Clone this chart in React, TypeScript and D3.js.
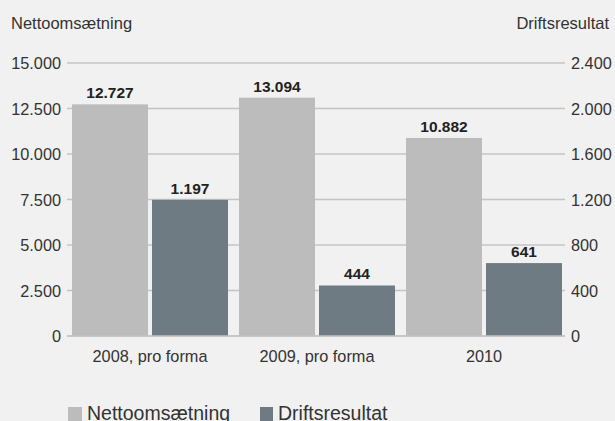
import React from "react";
import * as d3 from "d3";

const categories = ["2008, pro forma", "2009, pro forma", "2010"];
const nettoValues = [12727, 13094, 10882];
const driftValues = [1197, 444, 641];
const leftTicks = [0, 2500, 5000, 7500, 10000, 12500, 15000];
const rightTicks = [0, 400, 800, 1200, 1600, 2000, 2400];
const seriesNames = ["Nettoomsætning", "Driftsresultat"];

const W = 615;
const H = 421;
const colors = ["#bcbcbc", "#6f7b82"];
const font = "'Liberation Sans', Arial, Helvetica, sans-serif";
const fmt = (v: number) => d3.format(",")(v).replace(/,/g, ".");

export default function App() {
  const x0 = 66.5, x1 = 567.5, yTop = 63, yBot = 336;
  const xBand = d3.scaleBand<string>().domain(categories).range([x0, x1]).paddingInner(0).paddingOuter(0);
  const yL = d3.scaleLinear().domain([0, 15000]).range([yBot, yTop]);
  const yR = d3.scaleLinear().domain([0, 2400]).range([yBot, yTop]);
  const barW = 76;
  const gap = 4;
  const bw = xBand.bandwidth();
  const inner = (bw - (2 * barW + gap)) / 2;

  return (
    <svg width={W} height={H} style={{ position: "absolute", left: 0, top: 0, display: "block" }} fontFamily={font}>
      <rect x={0} y={0} width={W} height={H} fill="#f1f1f1" />
      <text x={11} y={29} fontSize={16.5} fill="#333">Nettoomsætning</text>
      <text x={609} y={29} fontSize={16.5} fill="#333" textAnchor="end">Driftsresultat</text>
      {leftTicks.map((t) => (
        <g key={"l" + t}>
          <line x1={67} x2={565} y1={yL(t)} y2={yL(t)} stroke="#c4c4c4" strokeWidth={1.5} />
          <text x={61} y={yL(t) + 6} fontSize={16.3} fill="#333" textAnchor="end">{fmt(t)}</text>
        </g>
      ))}
      {rightTicks.map((t) => (
        <text key={"r" + t} x={571} y={yR(t) + 6} fontSize={16.3} fill="#333">{fmt(t)}</text>
      ))}
      {categories.map((c, i) => {
        const bx = (xBand(c) as number) + inner;
        const nx = bx, dx = bx + barW + gap;
        return (
          <g key={c}>
            <rect x={nx} y={yL(nettoValues[i])} width={barW} height={yBot - yL(nettoValues[i])} fill={colors[0]} />
            <rect x={dx} y={yR(driftValues[i])} width={barW} height={yBot - yR(driftValues[i])} fill={colors[1]} />
            <text x={nx + barW / 2} y={yL(nettoValues[i]) - 6} fontSize={15.5} fontWeight="bold" fill="#222" textAnchor="middle">{fmt(nettoValues[i])}</text>
            <text x={dx + barW / 2} y={yR(driftValues[i]) - 6} fontSize={15.5} fontWeight="bold" fill="#222" textAnchor="middle">{fmt(driftValues[i])}</text>
            <text x={(xBand(c) as number) + bw / 2} y={362} fontSize={16.3} fill="#333" textAnchor="middle">{c}</text>
          </g>
        );
      })}
      <line x1={67} x2={565} y1={yBot} y2={yBot} stroke="#c4c4c4" strokeWidth={1.5} />
      <rect x={68} y={407} width={14} height={14} fill={colors[0]} />
      <text x={87} y={420} fontSize={19.5} fill="#333">{seriesNames[0]}</text>
      <rect x={260} y={407} width={13} height={14} fill={colors[1]} />
      <text x={278} y={420} fontSize={19.5} fill="#333">{seriesNames[1]}</text>
    </svg>
  );
}
